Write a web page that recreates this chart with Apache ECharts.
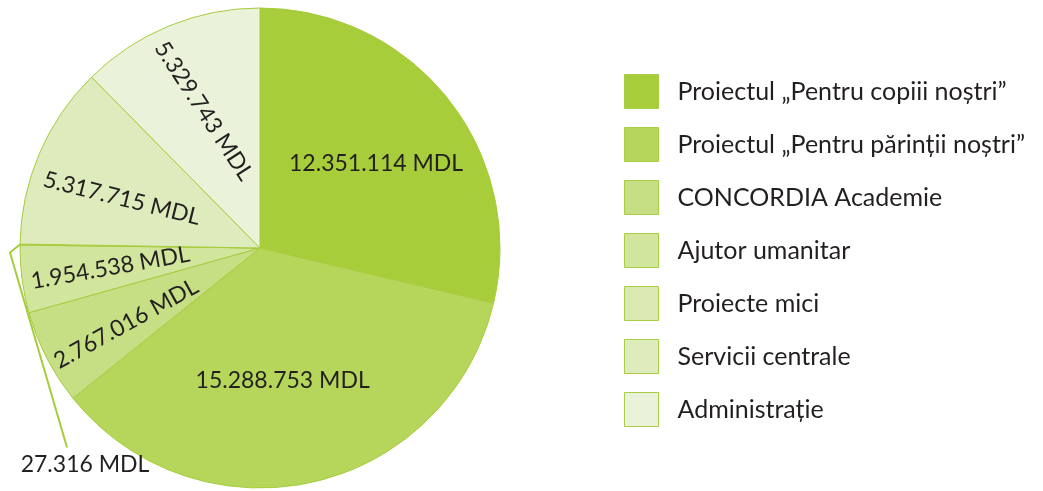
<!DOCTYPE html>
<html>
<head>
<meta charset="utf-8">
<script src="https://cdn.jsdelivr.net/npm/echarts@6/dist/echarts.min.js"></script>
<style>html,body{margin:0;padding:0;background:#fff;}#c{width:1043px;height:491px;}</style>
</head>
<body>
<div id="c"></div>
<script>
const categories = [
  'Proiectul „Pentru copiii noștri”',
  'Proiectul „Pentru părinții noștri”',
  'CONCORDIA Academie',
  'Ajutor umanitar',
  'Proiecte mici',
  'Servicii centrale',
  'Administrație'
];
const values = [12351114, 15288753, 2767016, 1954538, 27316, 5317715, 5329743];
const colors = ['#a8cd3a', '#b5d65b', '#c6df85', '#d1e59c', '#d9e9b1', '#deebbc', '#eaf3d9'];
const labelRotations = [0, 0, 29, 10, 0, -14, -57];
const labelOffsets = [[0, 7], [-10, -12], [-6, 6], [-3, 0], [0, 0], [0, 9], [0, 0]];
const unit = ' MDL';

function fmt(v) { return String(v).replace(/\B(?=(\d{3})+(?!\d))/g, '.') + unit; }

const FONT = 'Lato';
const chart = echarts.init(document.getElementById('c'), null, {renderer: 'canvas'});

const mainData = categories.map((n, i) => ({
  name: n, value: values[i],
  itemStyle: {color: colors[i]},
  label: {show: i === 4},
  labelLine: {show: i === 4}
}));
const labelData = categories.map((n, i) => ({
  name: n, value: values[i],
  label: {show: i !== 4, rotate: labelRotations[i], offset: labelOffsets[i]}
}));

chart.setOption({
  animation: false,
  legend: {
    orient: 'vertical', left: 624, top: 74, padding: 0,
    itemWidth: 34, itemHeight: 34, itemGap: 18, icon: 'rect',
    data: categories,
    itemStyle: {borderColor: '#a9ce45', borderWidth: 1},
    textStyle: {fontFamily: FONT, fontSize: 25, color: '#231f20', padding: [0, 0, 0, 14]}
  },
  series: [
    {
      type: 'pie', center: [260, 248], radius: [0, 240], startAngle: 90, clockwise: true,
      avoidLabelOverlap: false, silent: true,
      itemStyle: {borderColor: '#a6cc3c', borderWidth: 1},
      label: {position: 'outside', formatter: p => fmt(p.value), fontFamily: FONT, fontSize: 23, color: '#231f20'},
      labelLine: {length: 10, length2: 10, lineStyle: {color: '#a6cc3c', width: 2}},
      labelLayout: function (p) {
        if (p.dataIndex !== 4 || !p.labelLinePoints) return {};
        const a = p.labelLinePoints[0];
        return {
          x: a[0] + 65, y: a[1] + 220, align: 'center', verticalAlign: 'middle',
          labelLinePoints: [[a[0], a[1]], [a[0] - 10, a[1] + 8], [a[0] + 47, a[1] + 203]]
        };
      },
      data: mainData
    },
    {
      type: 'pie', center: [260, 248], radius: [0, 290], startAngle: 90, clockwise: true,
      silent: true, avoidLabelOverlap: false, z: 5,
      itemStyle: {color: 'rgba(0,0,0,0)', borderWidth: 0},
      label: {position: 'inside', formatter: p => fmt(p.value), fontFamily: FONT, fontSize: 23, color: '#231f20'},
      labelLine: {show: false},
      emphasis: {disabled: true},
      data: labelData
    }
  ]
});
</script>
</body>
</html>
